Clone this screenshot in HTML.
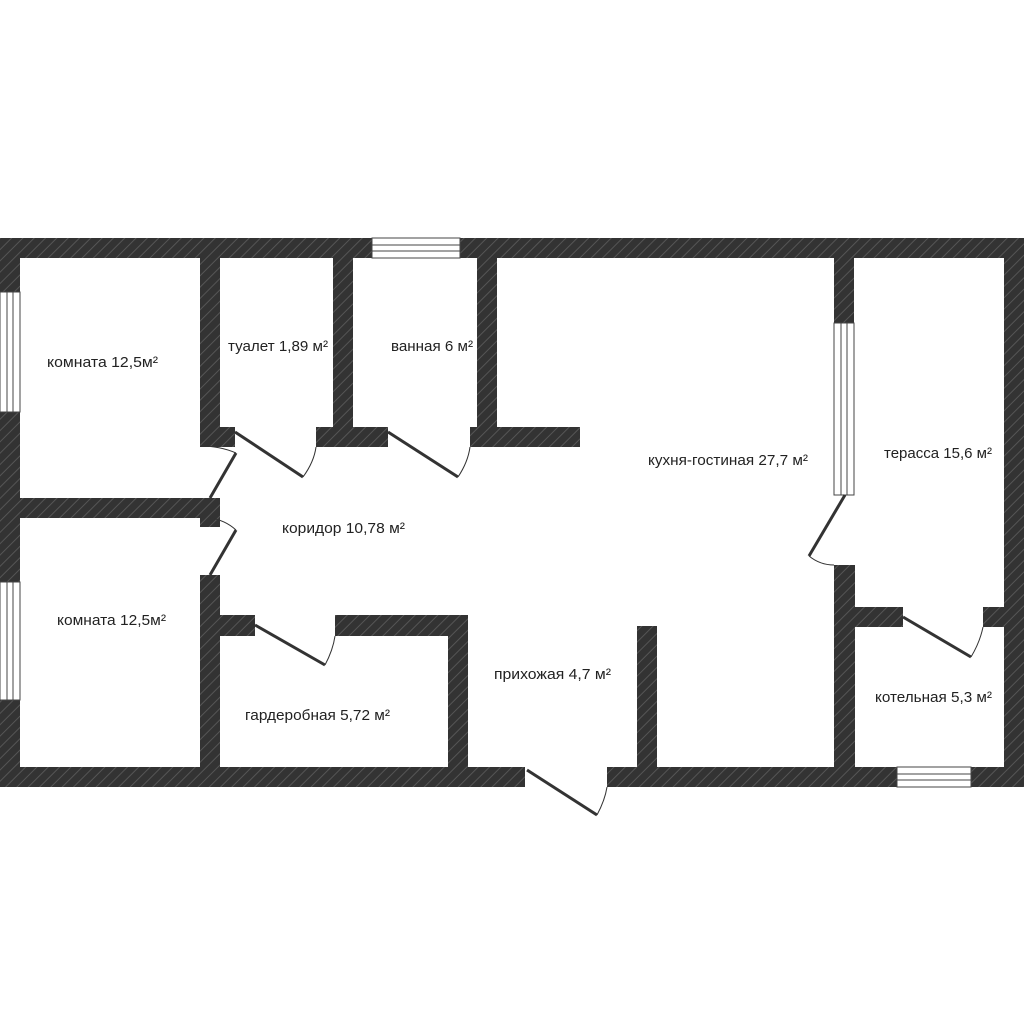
<!DOCTYPE html>
<html><head><meta charset="utf-8"><style>
html,body{margin:0;padding:0;background:#fff;width:1024px;height:1024px;overflow:hidden}
svg{display:block}
text{font-family:"Liberation Sans","DejaVu Sans",sans-serif;font-size:15px;fill:#222}
</style></head><body>
<svg width="1024" height="1024" viewBox="0 0 1024 1024">
<defs>
<pattern id="h" width="8" height="8" patternUnits="userSpaceOnUse" patternTransform="rotate(45)">
<rect width="8" height="8" fill="#333"/><rect width="1" height="8" fill="#555"/>
</pattern>
</defs>
<g fill="url(#h)">
<rect x="0" y="238" width="1024" height="20"/>
<rect x="0" y="238" width="20" height="549"/>
<rect x="1004" y="238" width="20" height="549"/>
<rect x="0" y="767" width="525" height="20"/>
<rect x="607" y="767" width="417" height="20"/>
<rect x="200" y="258" width="20" height="187"/>
<rect x="200" y="427" width="35" height="20"/>
<rect x="20" y="498" width="200" height="20"/>
<rect x="200" y="498" width="20" height="29"/>
<rect x="200" y="575" width="20" height="192"/>
<rect x="333" y="258" width="20" height="189"/>
<rect x="316" y="427" width="72" height="20"/>
<rect x="477" y="258" width="20" height="189"/>
<rect x="470" y="427" width="110" height="20"/>
<rect x="220" y="615" width="35" height="21"/>
<rect x="335" y="615" width="133" height="21"/>
<rect x="448" y="615" width="20" height="152"/>
<rect x="637" y="626" width="20" height="141"/>
<rect x="834" y="258" width="20" height="65"/>
<rect x="834" y="565" width="21" height="202"/>
<rect x="855" y="607" width="48" height="20"/>
<rect x="983" y="607" width="21" height="20"/>
</g>
<g fill="#fff" stroke="#444" stroke-width="1">
<rect x="372" y="238" width="88" height="20"/>
<line x1="372" y1="245" x2="460" y2="245"/><line x1="372" y1="251" x2="460" y2="251"/>
<rect x="0" y="292" width="20" height="120"/>
<line x1="7" y1="292" x2="7" y2="412"/><line x1="13" y1="292" x2="13" y2="412"/>
<rect x="0" y="582" width="20" height="118"/>
<line x1="7" y1="582" x2="7" y2="700"/><line x1="13" y1="582" x2="13" y2="700"/>
<rect x="834" y="323" width="20" height="172"/>
<line x1="841" y1="323" x2="841" y2="495"/><line x1="847" y1="323" x2="847" y2="495"/>
<rect x="897" y="767" width="74" height="20"/>
<line x1="897" y1="774" x2="971" y2="774"/><line x1="897" y1="780" x2="971" y2="780"/>
</g>
<g stroke="#333" stroke-width="3" fill="none">
<line x1="236" y1="453" x2="210" y2="498"/>
<line x1="236" y1="530" x2="210" y2="575"/>
<line x1="235" y1="432" x2="303" y2="477"/>
<line x1="388" y1="432" x2="458" y2="477"/>
<line x1="255" y1="625" x2="325" y2="665"/>
<line x1="527" y1="770" x2="597" y2="815"/>
<line x1="845" y1="495" x2="809" y2="556"/>
<line x1="903" y1="617" x2="971" y2="657"/>
</g>
<g stroke="#333" stroke-width="1" fill="none">
<path d="M303 477 Q314 462 316 447"/>
<path d="M458 477 Q468 462 470 447"/>
<path d="M236 453 Q220 446 200 446"/>
<path d="M236 530 Q225 520 210 518"/>
<path d="M325 665 Q333 650 335 636"/>
<path d="M597 815 Q605 800 607 787"/>
<path d="M809 556 Q820 565 834 565"/>
<path d="M971 657 Q980 642 983 627"/>
</g>
<text x="47" y="367" textLength="111" lengthAdjust="spacingAndGlyphs">комната 12,5м²</text>
<text x="228" y="351" textLength="100" lengthAdjust="spacingAndGlyphs">туалет 1,89 м²</text>
<text x="391" y="351" textLength="82" lengthAdjust="spacingAndGlyphs">ванная 6 м²</text>
<text x="648" y="465" textLength="160" lengthAdjust="spacingAndGlyphs">кухня-гостиная 27,7 м²</text>
<text x="884" y="458" textLength="108" lengthAdjust="spacingAndGlyphs">терасса 15,6 м²</text>
<text x="282" y="533" textLength="123" lengthAdjust="spacingAndGlyphs">коридор 10,78 м²</text>
<text x="57" y="625" textLength="109" lengthAdjust="spacingAndGlyphs">комната 12,5м²</text>
<text x="494" y="679" textLength="117" lengthAdjust="spacingAndGlyphs">прихожая 4,7 м²</text>
<text x="245" y="720" textLength="145" lengthAdjust="spacingAndGlyphs">гардеробная 5,72 м²</text>
<text x="875" y="702" textLength="117" lengthAdjust="spacingAndGlyphs">котельная 5,3 м²</text>
</svg>
</body></html>
